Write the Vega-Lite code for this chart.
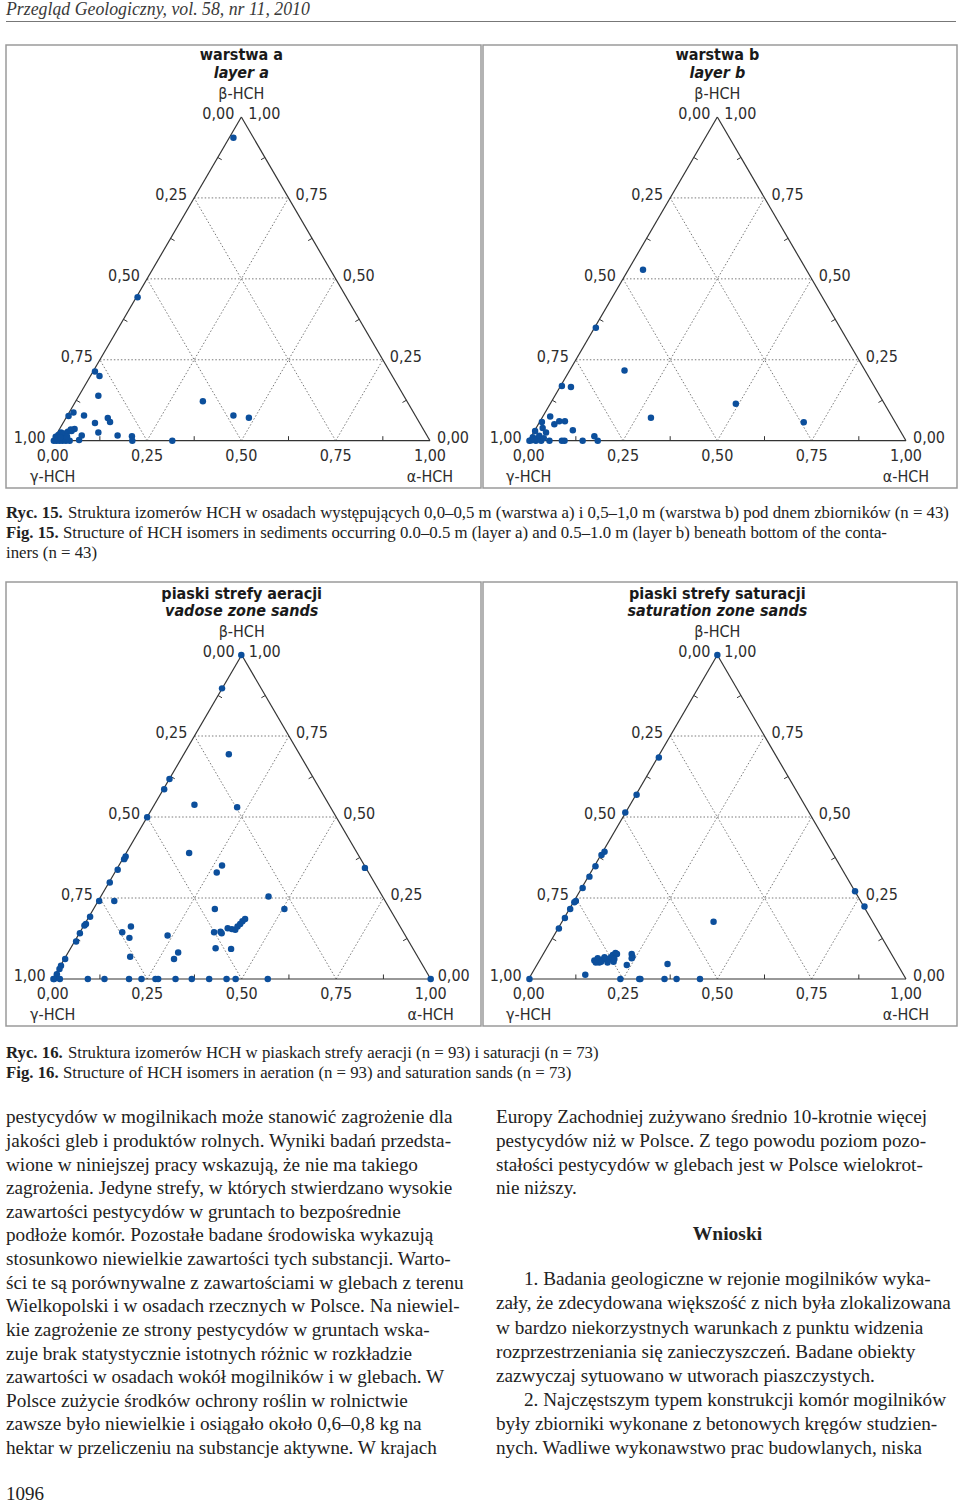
{
"$schema": "https://vega.github.io/schema/vega-lite/v6.json",
"padding": {"left": 5, "top": 0, "right": 0, "bottom": 0},
"background": "white",
"spacing": 0,
"config": {"view": {"stroke": null}, "text": {"font": "Liberation Sans Narrow, DejaVu Sans Condensed, sans-serif", "fontSize": 16, "color": "#2d2d2d"}},
"datasets": {
"edges": [{"x":0,"y":0,"x2":1,"y2":0},{"x":0,"y":0,"x2":0.5,"y2":1},{"x":1,"y":0,"x2":0.5,"y2":1}],
"grid": [
{"x":0.125,"y":0.25,"x2":0.875,"y2":0.25},{"x":0.25,"y":0.5,"x2":0.75,"y2":0.5},{"x":0.375,"y":0.75,"x2":0.625,"y2":0.75},
{"x":0.25,"y":0,"x2":0.625,"y2":0.75},{"x":0.5,"y":0,"x2":0.75,"y2":0.5},{"x":0.75,"y":0,"x2":0.875,"y2":0.25},
{"x":0.75,"y":0,"x2":0.375,"y2":0.75},{"x":0.5,"y":0,"x2":0.25,"y2":0.5},{"x":0.25,"y":0,"x2":0.125,"y2":0.25}],
"ticks": [
{"x":0.125,"y":0,"x2":0.125,"y2":0.014},{"x":0.375,"y":0,"x2":0.375,"y2":0.014},{"x":0.625,"y":0,"x2":0.625,"y2":0.014},{"x":0.875,"y":0,"x2":0.875,"y2":0.014},
{"x":0.0625,"y":0.125,"x2":0.0729,"y2":0.1181},{"x":0.1875,"y":0.375,"x2":0.1979,"y2":0.3681},{"x":0.3125,"y":0.625,"x2":0.3229,"y2":0.6181},{"x":0.4375,"y":0.875,"x2":0.4479,"y2":0.8681},
{"x":0.9375,"y":0.125,"x2":0.9271,"y2":0.1181},{"x":0.8125,"y":0.375,"x2":0.8021,"y2":0.3681},{"x":0.6875,"y":0.625,"x2":0.6771,"y2":0.6181},{"x":0.5625,"y":0.875,"x2":0.5521,"y2":0.8681}],
"labels": [
{"g":"L","x":0,"y":0,"t":"1,00"},{"g":"L","x":0.125,"y":0.25,"t":"0,75"},{"g":"L","x":0.25,"y":0.5,"t":"0,50"},{"g":"L","x":0.375,"y":0.75,"t":"0,25"},{"g":"L","x":0.5,"y":1,"t":"0,00"},
{"g":"R","x":1,"y":0,"t":"0,00"},{"g":"R","x":0.875,"y":0.25,"t":"0,25"},{"g":"R","x":0.75,"y":0.5,"t":"0,50"},{"g":"R","x":0.625,"y":0.75,"t":"0,75"},{"g":"R","x":0.5,"y":1,"t":"1,00"},
{"g":"B","x":0,"y":0,"t":"0,00"},{"g":"B","x":0.25,"y":0,"t":"0,25"},{"g":"B","x":0.5,"y":0,"t":"0,50"},{"g":"B","x":0.75,"y":0,"t":"0,75"},{"g":"B","x":1,"y":0,"t":"1,00"},
{"g":"T","x":0.5,"y":1,"t":"β-HCH"},
{"g":"V","x":0,"y":0,"t":"γ-HCH"},{"g":"V","x":1,"y":0,"t":"α-HCH"}],
"titles": [
{"p":"a","x":0.5,"y":1,"t1":"warstwa a","t2":"layer a"},
{"p":"b","x":0.5,"y":1,"t1":"warstwa b","t2":"layer b"},
{"p":"c","x":0.5,"y":1,"t1":"piaski strefy aeracji","t2":"vadose zone sands"},
{"p":"d","x":0.5,"y":1,"t1":"piaski strefy saturacji","t2":"saturation zone sands"}],
"pts": [
{"p":"a","x":0.479,"y":0.936},{"p":"a","x":0.225,"y":0.443},{"p":"a","x":0.112,"y":0.214},{"p":"a","x":0.124,"y":0.2},{"p":"a","x":0.121,"y":0.139},{"p":"a","x":0.055,"y":0.087},{"p":"a","x":0.042,"y":0.076},{"p":"a","x":0.083,"y":0.078},{"p":"a","x":0.112,"y":0.055},{"p":"a","x":0.146,"y":0.07},{"p":"a","x":0.152,"y":0.058},{"p":"a","x":0.121,"y":0.025},{"p":"a","x":0.172,"y":0.016},{"p":"a","x":0.21,"y":0.014},{"p":"a","x":0.211,"y":0.0},{"p":"a","x":0.317,"y":0.0},{"p":"a","x":0.398,"y":0.122},{"p":"a","x":0.479,"y":0.078},{"p":"a","x":0.52,"y":0.071},{"p":"a","x":0.077,"y":0.016},{"p":"a","x":0.07,"y":0.002},{"p":"a","x":0.05,"y":0.03},
{"p":"a","x":0.003,"y":0.0},{"p":"a","x":0.01,"y":0.0},{"p":"a","x":0.018,"y":0.0},{"p":"a","x":0.026,"y":0.0},{"p":"a","x":0.035,"y":0.0},{"p":"a","x":0.045,"y":0.0},{"p":"a","x":0.008,"y":0.012},{"p":"a","x":0.015,"y":0.018},{"p":"a","x":0.022,"y":0.025},{"p":"a","x":0.03,"y":0.022},{"p":"a","x":0.04,"y":0.028},{"p":"a","x":0.048,"y":0.035},{"p":"a","x":0.028,"y":0.008},{"p":"a","x":0.038,"y":0.012},{"p":"a","x":0.058,"y":0.036},{"p":"a","x":0.012,"y":0.006},{"p":"a","x":0.02,"y":0.01},
{"p":"b","x":0.303,"y":0.528},{"p":"b","x":0.178,"y":0.349},{"p":"b","x":0.254,"y":0.217},{"p":"b","x":0.088,"y":0.169},{"p":"b","x":0.112,"y":0.166},{"p":"b","x":0.549,"y":0.114},{"p":"b","x":0.324,"y":0.071},{"p":"b","x":0.729,"y":0.057},{"p":"b","x":0.057,"y":0.075},{"p":"b","x":0.035,"y":0.058},{"p":"b","x":0.068,"y":0.051},{"p":"b","x":0.081,"y":0.06},{"p":"b","x":0.096,"y":0.06},{"p":"b","x":0.117,"y":0.032},{"p":"b","x":0.037,"y":0.039},{"p":"b","x":0.046,"y":0.025},{"p":"b","x":0.017,"y":0.03},{"p":"b","x":0.174,"y":0.014},{"p":"b","x":0.183,"y":0.0},{"p":"b","x":0.143,"y":0.0},{"p":"b","x":0.095,"y":0.0},{"p":"b","x":0.088,"y":0.0},{"p":"b","x":0.055,"y":0.0},{"p":"b","x":0.033,"y":0.0},{"p":"b","x":0.019,"y":0.0},{"p":"b","x":0.006,"y":0.001},{"p":"b","x":0.011,"y":0.011},{"p":"b","x":0.024,"y":0.006},{"p":"b","x":0.002,"y":0.0},{"p":"b","x":0.028,"y":0.015},{"p":"b","x":0.04,"y":0.008},{"p":"b","x":0.014,"y":0.004},
{"p":"c","x":0.499,"y":1.0},{"p":"c","x":0.448,"y":0.897},{"p":"c","x":0.466,"y":0.694},{"p":"c","x":0.309,"y":0.617},{"p":"c","x":0.295,"y":0.586},{"p":"c","x":0.375,"y":0.538},{"p":"c","x":0.488,"y":0.53},{"p":"c","x":0.25,"y":0.499},{"p":"c","x":0.361,"y":0.389},{"p":"c","x":0.193,"y":0.378},{"p":"c","x":0.189,"y":0.37},{"p":"c","x":0.172,"y":0.337},{"p":"c","x":0.151,"y":0.298},{"p":"c","x":0.448,"y":0.35},{"p":"c","x":0.434,"y":0.329},{"p":"c","x":0.123,"y":0.241},{"p":"c","x":0.163,"y":0.241},{"p":"c","x":0.571,"y":0.255},{"p":"c","x":0.613,"y":0.216},{"p":"c","x":0.826,"y":0.343},{"p":"c","x":0.429,"y":0.216},{"p":"c","x":0.099,"y":0.192},{"p":"c","x":0.088,"y":0.17},{"p":"c","x":0.084,"y":0.165},{"p":"c","x":0.072,"y":0.141},{"p":"c","x":0.062,"y":0.116},{"p":"c","x":0.033,"y":0.062},{"p":"c","x":0.022,"y":0.041},{"p":"c","x":0.018,"y":0.031},{"p":"c","x":0.011,"y":0.015},{"p":"c","x":0.004,"y":0.0},{"p":"c","x":0.184,"y":0.144},{"p":"c","x":0.207,"y":0.162},{"p":"c","x":0.203,"y":0.127},{"p":"c","x":0.205,"y":0.069},{"p":"c","x":0.304,"y":0.134},{"p":"c","x":0.332,"y":0.082},{"p":"c","x":0.321,"y":0.062},{"p":"c","x":0.427,"y":0.144},{"p":"c","x":0.444,"y":0.146},{"p":"c","x":0.447,"y":0.141},{"p":"c","x":0.463,"y":0.157},{"p":"c","x":0.474,"y":0.154},{"p":"c","x":0.483,"y":0.152},{"p":"c","x":0.489,"y":0.162},{"p":"c","x":0.496,"y":0.17},{"p":"c","x":0.502,"y":0.178},{"p":"c","x":0.509,"y":0.185},{"p":"c","x":0.431,"y":0.095},{"p":"c","x":0.472,"y":0.093},
{"p":"c","x":0.002,"y":0.0},{"p":"c","x":0.019,"y":0.0},{"p":"c","x":0.093,"y":0.0},{"p":"c","x":0.137,"y":0.0},{"p":"c","x":0.202,"y":0.0},{"p":"c","x":0.235,"y":0.0},{"p":"c","x":0.272,"y":0.0},{"p":"c","x":0.279,"y":0.0},{"p":"c","x":0.325,"y":0.0},{"p":"c","x":0.368,"y":0.0},{"p":"c","x":0.414,"y":0.0},{"p":"c","x":0.46,"y":0.0},{"p":"c","x":0.484,"y":0.0},{"p":"c","x":0.569,"y":0.0},{"p":"c","x":1.0,"y":0.0},
{"p":"d","x":0.5,"y":1.0},{"p":"d","x":0.345,"y":0.684},{"p":"d","x":0.286,"y":0.569},{"p":"d","x":0.256,"y":0.514},{"p":"d","x":0.201,"y":0.393},{"p":"d","x":0.193,"y":0.383},{"p":"d","x":0.177,"y":0.348},{"p":"d","x":0.161,"y":0.316},{"p":"d","x":0.143,"y":0.281},{"p":"d","x":0.125,"y":0.241},{"p":"d","x":0.121,"y":0.237},{"p":"d","x":0.11,"y":0.216},{"p":"d","x":0.096,"y":0.188},{"p":"d","x":0.08,"y":0.156},{"p":"d","x":0.865,"y":0.271},{"p":"d","x":0.89,"y":0.224},{"p":"d","x":0.49,"y":0.177},
{"p":"d","x":0.174,"y":0.057},{"p":"d","x":0.183,"y":0.064},{"p":"d","x":0.187,"y":0.051},{"p":"d","x":0.196,"y":0.06},{"p":"d","x":0.205,"y":0.062},{"p":"d","x":0.214,"y":0.06},{"p":"d","x":0.218,"y":0.067},{"p":"d","x":0.223,"y":0.074},{"p":"d","x":0.23,"y":0.08},{"p":"d","x":0.234,"y":0.077},{"p":"d","x":0.225,"y":0.053},{"p":"d","x":0.209,"y":0.051},{"p":"d","x":0.178,"y":0.051},{"p":"d","x":0.192,"y":0.053},{"p":"d","x":0.201,"y":0.067},{"p":"d","x":0.227,"y":0.062},
{"p":"d","x":0.273,"y":0.077},{"p":"d","x":0.275,"y":0.069},{"p":"d","x":0.273,"y":0.064},{"p":"d","x":0.26,"y":0.043},{"p":"d","x":0.368,"y":0.046},{"p":"d","x":0.15,"y":0.013},{"p":"d","x":0.002,"y":0.0},{"p":"d","x":0.243,"y":0.0},{"p":"d","x":0.293,"y":0.0},{"p":"d","x":0.296,"y":0.0},{"p":"d","x":0.36,"y":0.0},{"p":"d","x":0.392,"y":0.0},{"p":"d","x":0.454,"y":0.0}]
},
"vconcat": [
{"width": 950, "height": 43,
 "layer": [
  {"data": {"values": [{"ln": 0, "t": "Przegląd Geologiczny, vol. 58, nr 11, 2010"}]},
   "mark": {"type": "text", "align": "left", "baseline": "middle", "font": "Liberation Serif", "fontStyle": "italic", "fontSize": 17.8, "color": "#3a3a3a"},
   "encoding": {"x": {"value": 0}, "y": {"field": "ln", "type": "quantitative", "scale": {"domain": [-0.425, 1.725], "reverse": true, "nice": false, "zero": false}, "axis": null}, "text": {"field": "t"}}},
  {"data": {"values": [{"ln": 0.6}]},
   "mark": {"type": "rule", "color": "#777777", "strokeWidth": 1},
   "encoding": {"y": {"field": "ln", "type": "quantitative", "scale": {"domain": [-0.425, 1.725], "reverse": true, "nice": false, "zero": false}, "axis": null}}}
 ]},
{"hconcat": [
 {"width": 475, "height": 443, "view": {"stroke": "#9a9a9a", "strokeWidth": 1.5},
  "encoding": {"x": {"field": "x", "type": "quantitative", "scale": {"domain": [-0.1238, 1.1352], "nice": false, "zero": false}, "axis": null},
               "y": {"field": "y", "type": "quantitative", "scale": {"domain": [-0.1461, 1.2224], "nice": false, "zero": false}, "axis": null}},
  "layer": [
   {"data": {"name": "grid"}, "mark": {"type": "rule", "color": "#7a7a7a", "strokeWidth": 1, "strokeDash": [1.5, 2]}, "encoding": {"x2": {"field": "x2"}, "y2": {"field": "y2"}}},
   {"data": {"name": "edges"}, "mark": {"type": "rule", "color": "#333333", "strokeWidth": 1.2}, "encoding": {"x2": {"field": "x2"}, "y2": {"field": "y2"}}},
   {"data": {"name": "ticks"}, "mark": {"type": "rule", "color": "#333333", "strokeWidth": 1}, "encoding": {"x2": {"field": "x2"}, "y2": {"field": "y2"}}},
   {"data": {"name": "pts"}, "transform": [{"filter": "datum.p == 'a'"}], "mark": {"type": "circle", "size": 42, "color": "#0c4f9c", "opacity": 1}, "encoding": {}},
   {"data": {"name": "labels"}, "transform": [{"filter": "datum.g == 'L'"}], "mark": {"type": "text", "align": "right", "baseline": "middle", "dx": -7, "dy": -3}, "encoding": {"text": {"field": "t"}}},
   {"data": {"name": "labels"}, "transform": [{"filter": "datum.g == 'R'"}], "mark": {"type": "text", "align": "left", "baseline": "middle", "dx": 7, "dy": -3}, "encoding": {"text": {"field": "t"}}},
   {"data": {"name": "labels"}, "transform": [{"filter": "datum.g == 'B'"}], "mark": {"type": "text", "align": "center", "baseline": "middle", "dy": 15}, "encoding": {"text": {"field": "t"}}},
   {"data": {"name": "labels"}, "transform": [{"filter": "datum.g == 'T'"}], "mark": {"type": "text", "align": "center", "baseline": "middle", "dy": -23}, "encoding": {"text": {"field": "t"}}},
   {"data": {"name": "labels"}, "transform": [{"filter": "datum.g == 'V'"}], "mark": {"type": "text", "align": "center", "baseline": "middle", "dy": 36}, "encoding": {"text": {"field": "t"}}},
   {"data": {"name": "titles"}, "transform": [{"filter": "datum.p == 'a'"}], "mark": {"type": "text", "align": "center", "baseline": "middle", "fontWeight": "bold", "dy": -62, "color": "#1a1a1a"}, "encoding": {"text": {"field": "t1"}}},
   {"data": {"name": "titles"}, "transform": [{"filter": "datum.p == 'a'"}], "mark": {"type": "text", "align": "center", "baseline": "middle", "fontWeight": "bold", "fontStyle": "italic", "dy": -44, "color": "#1a1a1a"}, "encoding": {"text": {"field": "t2"}}}
  ]},
 {"width": 474, "height": 443, "view": {"stroke": "#9a9a9a", "strokeWidth": 1.5},
  "encoding": {"x": {"field": "x", "type": "quantitative", "scale": {"domain": [-0.1211, 1.1352], "nice": false, "zero": false}, "axis": null},
               "y": {"field": "y", "type": "quantitative", "scale": {"domain": [-0.1461, 1.2224], "nice": false, "zero": false}, "axis": null}},
  "layer": [
   {"data": {"name": "grid"}, "mark": {"type": "rule", "color": "#7a7a7a", "strokeWidth": 1, "strokeDash": [1.5, 2]}, "encoding": {"x2": {"field": "x2"}, "y2": {"field": "y2"}}},
   {"data": {"name": "edges"}, "mark": {"type": "rule", "color": "#333333", "strokeWidth": 1.2}, "encoding": {"x2": {"field": "x2"}, "y2": {"field": "y2"}}},
   {"data": {"name": "ticks"}, "mark": {"type": "rule", "color": "#333333", "strokeWidth": 1}, "encoding": {"x2": {"field": "x2"}, "y2": {"field": "y2"}}},
   {"data": {"name": "pts"}, "transform": [{"filter": "datum.p == 'b'"}], "mark": {"type": "circle", "size": 42, "color": "#0c4f9c", "opacity": 1}, "encoding": {}},
   {"data": {"name": "labels"}, "transform": [{"filter": "datum.g == 'L'"}], "mark": {"type": "text", "align": "right", "baseline": "middle", "dx": -7, "dy": -3}, "encoding": {"text": {"field": "t"}}},
   {"data": {"name": "labels"}, "transform": [{"filter": "datum.g == 'R'"}], "mark": {"type": "text", "align": "left", "baseline": "middle", "dx": 7, "dy": -3}, "encoding": {"text": {"field": "t"}}},
   {"data": {"name": "labels"}, "transform": [{"filter": "datum.g == 'B'"}], "mark": {"type": "text", "align": "center", "baseline": "middle", "dy": 15}, "encoding": {"text": {"field": "t"}}},
   {"data": {"name": "labels"}, "transform": [{"filter": "datum.g == 'T'"}], "mark": {"type": "text", "align": "center", "baseline": "middle", "dy": -23}, "encoding": {"text": {"field": "t"}}},
   {"data": {"name": "labels"}, "transform": [{"filter": "datum.g == 'V'"}], "mark": {"type": "text", "align": "center", "baseline": "middle", "dy": 36}, "encoding": {"text": {"field": "t"}}},
   {"data": {"name": "titles"}, "transform": [{"filter": "datum.p == 'b'"}], "mark": {"type": "text", "align": "center", "baseline": "middle", "fontWeight": "bold", "dy": -62, "color": "#1a1a1a"}, "encoding": {"text": {"field": "t1"}}},
   {"data": {"name": "titles"}, "transform": [{"filter": "datum.p == 'b'"}], "mark": {"type": "text", "align": "center", "baseline": "middle", "fontWeight": "bold", "fontStyle": "italic", "dy": -44, "color": "#1a1a1a"}, "encoding": {"text": {"field": "t2"}}}
  ]}
 ], "spacing": 0},
{"width": 955, "height": 92,
 "data": {"values": [
  {"ln": 0, "k": "ryc", "b": "Ryc. 15.", "r": "Struktura izomerów HCH w osadach występujących 0,0–0,5 m (warstwa a) i 0,5–1,0 m (warstwa b) pod dnem zbiorników (n = 43)"},
  {"ln": 1, "k": "fig", "b": "Fig. 15.", "r": "Structure of HCH isomers in sediments occurring 0.0–0.5 m (layer a) and 0.5–1.0 m (layer b) beneath bottom of the conta-"},
  {"ln": 2, "k": "plain", "b": "", "r": "iners (n = 43)"}]},
 "encoding": {"x": {"value": 0}, "y": {"field": "ln", "type": "quantitative", "scale": {"domain": [-1.2, 3.4], "reverse": true, "nice": false, "zero": false}, "axis": null}},
 "layer": [
  {"mark": {"type": "text", "align": "left", "baseline": "middle", "font": "Liberation Serif", "fontSize": 16.8, "fontWeight": "bold", "color": "#222222"}, "encoding": {"text": {"field": "b"}}},
  {"transform": [{"filter": "datum.k == 'ryc'"}], "mark": {"type": "text", "align": "left", "baseline": "middle", "font": "Liberation Serif", "fontSize": 16.8, "dx": 62, "color": "#222222"}, "encoding": {"text": {"field": "r"}}},
  {"transform": [{"filter": "datum.k == 'fig'"}], "mark": {"type": "text", "align": "left", "baseline": "middle", "font": "Liberation Serif", "fontSize": 16.8, "dx": 57, "color": "#222222"}, "encoding": {"text": {"field": "r"}}},
  {"transform": [{"filter": "datum.k == 'plain'"}], "mark": {"type": "text", "align": "left", "baseline": "middle", "font": "Liberation Serif", "fontSize": 16.8, "color": "#222222"}, "encoding": {"text": {"field": "r"}}}
 ]},
{"hconcat": [
 {"width": 475, "height": 444, "view": {"stroke": "#9a9a9a", "strokeWidth": 1.5},
  "encoding": {"x": {"field": "x", "type": "quantitative", "scale": {"domain": [-0.1235, 1.1331], "nice": false, "zero": false}, "axis": null},
               "y": {"field": "y", "type": "quantitative", "scale": {"domain": [-0.145, 1.2253], "nice": false, "zero": false}, "axis": null}},
  "layer": [
   {"data": {"name": "grid"}, "mark": {"type": "rule", "color": "#7a7a7a", "strokeWidth": 1, "strokeDash": [1.5, 2]}, "encoding": {"x2": {"field": "x2"}, "y2": {"field": "y2"}}},
   {"data": {"name": "edges"}, "mark": {"type": "rule", "color": "#333333", "strokeWidth": 1.2}, "encoding": {"x2": {"field": "x2"}, "y2": {"field": "y2"}}},
   {"data": {"name": "ticks"}, "mark": {"type": "rule", "color": "#333333", "strokeWidth": 1}, "encoding": {"x2": {"field": "x2"}, "y2": {"field": "y2"}}},
   {"data": {"name": "pts"}, "transform": [{"filter": "datum.p == 'c'"}], "mark": {"type": "circle", "size": 42, "color": "#0c4f9c", "opacity": 1}, "encoding": {}},
   {"data": {"name": "labels"}, "transform": [{"filter": "datum.g == 'L'"}], "mark": {"type": "text", "align": "right", "baseline": "middle", "dx": -7, "dy": -3}, "encoding": {"text": {"field": "t"}}},
   {"data": {"name": "labels"}, "transform": [{"filter": "datum.g == 'R'"}], "mark": {"type": "text", "align": "left", "baseline": "middle", "dx": 7, "dy": -3}, "encoding": {"text": {"field": "t"}}},
   {"data": {"name": "labels"}, "transform": [{"filter": "datum.g == 'B'"}], "mark": {"type": "text", "align": "center", "baseline": "middle", "dy": 15}, "encoding": {"text": {"field": "t"}}},
   {"data": {"name": "labels"}, "transform": [{"filter": "datum.g == 'T'"}], "mark": {"type": "text", "align": "center", "baseline": "middle", "dy": -23}, "encoding": {"text": {"field": "t"}}},
   {"data": {"name": "labels"}, "transform": [{"filter": "datum.g == 'V'"}], "mark": {"type": "text", "align": "center", "baseline": "middle", "dy": 36}, "encoding": {"text": {"field": "t"}}},
   {"data": {"name": "titles"}, "transform": [{"filter": "datum.p == 'c'"}], "mark": {"type": "text", "align": "center", "baseline": "middle", "fontWeight": "bold", "dy": -61, "color": "#1a1a1a"}, "encoding": {"text": {"field": "t1"}}},
   {"data": {"name": "titles"}, "transform": [{"filter": "datum.p == 'c'"}], "mark": {"type": "text", "align": "center", "baseline": "middle", "fontWeight": "bold", "fontStyle": "italic", "dy": -44, "color": "#1a1a1a"}, "encoding": {"text": {"field": "t2"}}}
  ]},
 {"width": 474, "height": 444, "view": {"stroke": "#9a9a9a", "strokeWidth": 1.5},
  "encoding": {"x": {"field": "x", "type": "quantitative", "scale": {"domain": [-0.1211, 1.1352], "nice": false, "zero": false}, "axis": null},
               "y": {"field": "y", "type": "quantitative", "scale": {"domain": [-0.145, 1.2253], "nice": false, "zero": false}, "axis": null}},
  "layer": [
   {"data": {"name": "grid"}, "mark": {"type": "rule", "color": "#7a7a7a", "strokeWidth": 1, "strokeDash": [1.5, 2]}, "encoding": {"x2": {"field": "x2"}, "y2": {"field": "y2"}}},
   {"data": {"name": "edges"}, "mark": {"type": "rule", "color": "#333333", "strokeWidth": 1.2}, "encoding": {"x2": {"field": "x2"}, "y2": {"field": "y2"}}},
   {"data": {"name": "ticks"}, "mark": {"type": "rule", "color": "#333333", "strokeWidth": 1}, "encoding": {"x2": {"field": "x2"}, "y2": {"field": "y2"}}},
   {"data": {"name": "pts"}, "transform": [{"filter": "datum.p == 'd'"}], "mark": {"type": "circle", "size": 42, "color": "#0c4f9c", "opacity": 1}, "encoding": {}},
   {"data": {"name": "labels"}, "transform": [{"filter": "datum.g == 'L'"}], "mark": {"type": "text", "align": "right", "baseline": "middle", "dx": -7, "dy": -3}, "encoding": {"text": {"field": "t"}}},
   {"data": {"name": "labels"}, "transform": [{"filter": "datum.g == 'R'"}], "mark": {"type": "text", "align": "left", "baseline": "middle", "dx": 7, "dy": -3}, "encoding": {"text": {"field": "t"}}},
   {"data": {"name": "labels"}, "transform": [{"filter": "datum.g == 'B'"}], "mark": {"type": "text", "align": "center", "baseline": "middle", "dy": 15}, "encoding": {"text": {"field": "t"}}},
   {"data": {"name": "labels"}, "transform": [{"filter": "datum.g == 'T'"}], "mark": {"type": "text", "align": "center", "baseline": "middle", "dy": -23}, "encoding": {"text": {"field": "t"}}},
   {"data": {"name": "labels"}, "transform": [{"filter": "datum.g == 'V'"}], "mark": {"type": "text", "align": "center", "baseline": "middle", "dy": 36}, "encoding": {"text": {"field": "t"}}},
   {"data": {"name": "titles"}, "transform": [{"filter": "datum.p == 'd'"}], "mark": {"type": "text", "align": "center", "baseline": "middle", "fontWeight": "bold", "dy": -61, "color": "#1a1a1a"}, "encoding": {"text": {"field": "t1"}}},
   {"data": {"name": "titles"}, "transform": [{"filter": "datum.p == 'd'"}], "mark": {"type": "text", "align": "center", "baseline": "middle", "fontWeight": "bold", "fontStyle": "italic", "dy": -44, "color": "#1a1a1a"}, "encoding": {"text": {"field": "t2"}}}
  ]}
 ], "spacing": 0},
{"width": 955, "height": 60,
 "data": {"values": [
  {"ln": 0, "k": "ryc", "b": "Ryc. 16.", "r": "Struktura izomerów HCH w piaskach strefy aeracji (n = 93) i saturacji (n = 73)"},
  {"ln": 1, "k": "fig", "b": "Fig. 16.", "r": "Structure of HCH isomers in aeration (n = 93) and saturation sands (n = 73)"}]},
 "encoding": {"x": {"value": 0}, "y": {"field": "ln", "type": "quantitative", "scale": {"domain": [-1.3, 1.7], "reverse": true, "nice": false, "zero": false}, "axis": null}},
 "layer": [
  {"mark": {"type": "text", "align": "left", "baseline": "middle", "font": "Liberation Serif", "fontSize": 16.8, "fontWeight": "bold", "color": "#222222"}, "encoding": {"text": {"field": "b"}}},
  {"transform": [{"filter": "datum.k == 'ryc'"}], "mark": {"type": "text", "align": "left", "baseline": "middle", "font": "Liberation Serif", "fontSize": 16.8, "dx": 62, "color": "#222222"}, "encoding": {"text": {"field": "r"}}},
  {"transform": [{"filter": "datum.k == 'fig'"}], "mark": {"type": "text", "align": "left", "baseline": "middle", "font": "Liberation Serif", "fontSize": 16.8, "dx": 57, "color": "#222222"}, "encoding": {"text": {"field": "r"}}}
 ]},
{"hconcat": [
 {"width": 470, "height": 380,
  "data": {"values": [
   {"ln": 0, "t": "pestycydów w mogilnikach może stanowić zagrożenie dla"},
   {"ln": 1, "t": "jakości gleb i produktów rolnych. Wyniki badań przedsta-"},
   {"ln": 2, "t": "wione w niniejszej pracy wskazują, że nie ma takiego"},
   {"ln": 3, "t": "zagrożenia. Jedyne strefy, w których stwierdzano wysokie"},
   {"ln": 4, "t": "zawartości pestycydów w gruntach to bezpośrednie"},
   {"ln": 5, "t": "podłoże komór. Pozostałe badane środowiska wykazują"},
   {"ln": 6, "t": "stosunkowo niewielkie zawartości tych substancji. Warto-"},
   {"ln": 7, "t": "ści te są porównywalne z zawartościami w glebach z terenu"},
   {"ln": 8, "t": "Wielkopolski i w osadach rzecznych w Polsce. Na niewiel-"},
   {"ln": 9, "t": "kie zagrożenie ze strony pestycydów w gruntach wska-"},
   {"ln": 10, "t": "zuje brak statystycznie istotnych różnic w rozkładzie"},
   {"ln": 11, "t": "zawartości w osadach wokół mogilników i w glebach. W"},
   {"ln": 12, "t": "Polsce zużycie środków ochrony roślin w rolnictwie"},
   {"ln": 13, "t": "zawsze było niewielkie i osiągało około 0,6–0,8 kg na"},
   {"ln": 14, "t": "hektar w przeliczeniu na substancje aktywne. W krajach"}]},
  "mark": {"type": "text", "align": "left", "baseline": "middle", "font": "Liberation Serif", "fontSize": 19.2, "color": "#222222"},
  "encoding": {"x": {"value": 0}, "y": {"field": "ln", "type": "quantitative", "scale": {"domain": [-1.283, 14.805], "reverse": true, "nice": false, "zero": false}, "axis": null}, "text": {"field": "t"}}},
 {"width": 463, "height": 380,
  "data": {"values": [
   {"ln": 0, "k": "p", "t": "Europy Zachodniej zużywano średnio 10-krotnie więcej"},
   {"ln": 1, "k": "p", "t": "pestycydów niż w Polsce. Z tego powodu poziom pozo-"},
   {"ln": 2, "k": "p", "t": "stałości pestycydów w glebach jest w Polsce wielokrot-"},
   {"ln": 3, "k": "p", "t": "nie niższy."},
   {"ln": 4.94, "k": "h", "t": "Wnioski"},
   {"ln": 6.86, "k": "i", "t": "1. Badania geologiczne w rejonie mogilników wyka-"},
   {"ln": 7.88, "k": "p", "t": "zały, że zdecydowana większość z nich była zlokalizowana"},
   {"ln": 8.9, "k": "p", "t": "w bardzo niekorzystnych warunkach z punktu widzenia"},
   {"ln": 9.92, "k": "p", "t": "rozprzestrzeniania się zanieczyszczeń. Badane obiekty"},
   {"ln": 10.94, "k": "p", "t": "zazwyczaj sytuowano w utworach piaszczystych."},
   {"ln": 11.96, "k": "i", "t": "2. Najczęstszym typem konstrukcji komór mogilników"},
   {"ln": 12.98, "k": "p", "t": "były zbiorniki wykonane z betonowych kręgów studzien-"},
   {"ln": 14, "k": "p", "t": "nych. Wadliwe wykonawstwo prac budowlanych, niska"}]},
  "encoding": {"y": {"field": "ln", "type": "quantitative", "scale": {"domain": [-1.283, 14.805], "reverse": true, "nice": false, "zero": false}, "axis": null}, "text": {"field": "t"}},
  "layer": [
   {"transform": [{"filter": "datum.k == 'p'"}], "mark": {"type": "text", "align": "left", "baseline": "middle", "font": "Liberation Serif", "fontSize": 19.2, "color": "#222222"}, "encoding": {"x": {"value": 0}}},
   {"transform": [{"filter": "datum.k == 'i'"}], "mark": {"type": "text", "align": "left", "baseline": "middle", "font": "Liberation Serif", "fontSize": 19.2, "dx": 28, "color": "#222222"}, "encoding": {"x": {"value": 0}}},
   {"transform": [{"filter": "datum.k == 'h'"}], "mark": {"type": "text", "align": "center", "baseline": "middle", "font": "Liberation Serif", "fontSize": 19.5, "fontWeight": "bold", "color": "#222222"}, "encoding": {"x": {"value": 231.5}}}
  ]}
 ], "spacing": 20},
{"width": 955, "height": 36,
 "data": {"values": [{"ln": 0, "t": "1096"}]},
 "mark": {"type": "text", "align": "left", "baseline": "middle", "font": "Liberation Serif", "fontSize": 19, "color": "#222222"},
 "encoding": {"x": {"value": 0}, "y": {"field": "ln", "type": "quantitative", "scale": {"domain": [-1.35, 0.45], "reverse": true, "nice": false, "zero": false}, "axis": null}, "text": {"field": "t"}}}
]
}
